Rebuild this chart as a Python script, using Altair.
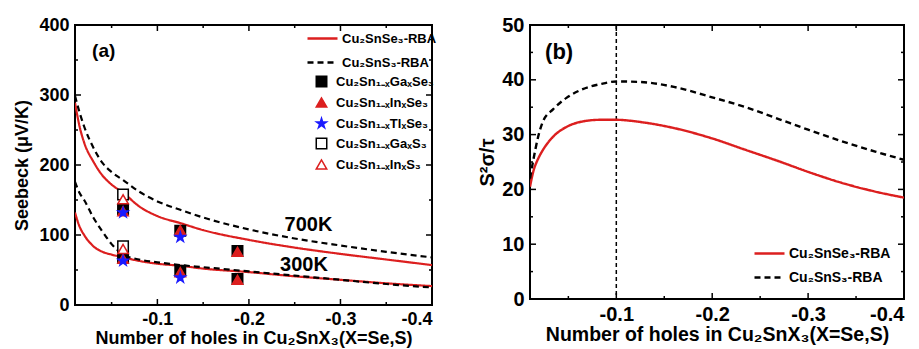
import altair as alt
import pandas as pd

RED = "#dc1f1f"
BLUE = "#1a1aff"
FONT = "Liberation Sans"

SE = "Cu₂SnSe₃-RBA"
S = "Cu₂SnS₃-RBA"
materials = [SE, S]

# ---------------- panel (a) curves ----------------
xa = [-0.01, -0.015, -0.02, -0.03, -0.04, -0.05, -0.063, -0.08, -0.1, -0.125, -0.15, -0.2, -0.25, -0.3, -0.35, -0.4]
se_700 = [289, 255, 232, 205, 185, 172, 160, 141, 127, 117, 107, 93, 82, 73, 65, 57]
s_700 = [299, 275, 255, 225, 203, 190, 178, 162, 148, 136, 125, 108, 95, 85, 76, 68]
se_300 = [132, 112, 100, 84, 76, 72, 68, 63, 59, 56, 52, 47, 41, 36, 31, 27]
s_300 = [176, 160, 150, 125, 105, 87, 72, 65, 61, 57, 54, 48, 42, 36, 30, 25]

# ---------------- panel (a) points ----------------
compounds = ["Cu₂Sn₁₋ₓGaₓSe₃", "Cu₂Sn₁₋ₓInₓSe₃", "Cu₂Sn₁₋ₓTlₓSe₃", "Cu₂Sn₁₋ₓGaₓS₃", "Cu₂Sn₁₋ₓInₓS₃"]
pt_x = [-0.0625, -0.125, -0.1875]
ga_se = [137, 68, 106, 49, 77, 37]
in_se = [134, 66, 107, 47, 76, 36]
tl_se = [132, 63, 97, 39]
ga_s = [158, 84]
in_s = [151, 80]

# ---------------- panel (b) curves ----------------
xb = [-0.01, -0.0135, -0.0185, -0.0235, -0.034, -0.048, -0.065, -0.083, -0.1, -0.125, -0.16, -0.2,
      -0.235, -0.27, -0.3, -0.335, -0.37, -0.4]
se_pf = [20.5, 23.3, 25.6, 27.2, 29.6, 31.4, 32.4, 32.7, 32.7, 32.3, 31.2, 29.3,
         27.2, 25.1, 23.2, 21.2, 19.6, 18.5]
s_pf = [22.0, 25.4, 29.6, 32.4, 34.6, 36.7, 38.3, 39.2, 39.7, 39.6, 38.7, 36.8,
        35.0, 32.8, 30.9, 28.8, 26.9, 25.4]
vline_x = [-0.1]

# ticks
x_major = [-0.1, -0.2, -0.3, -0.4]
x_minor = [-0.05, -0.15, -0.25, -0.35]
ya_major = [0, 100, 200, 300, 400]
ya_minor = [50, 150, 250, 350]
yb_major = [0, 10, 20, 30, 40, 50]
yb_minor = [5, 15, 25, 35, 45]

# annotations
ann_a = pd.DataFrame({"x": [-0.0287, -0.239, -0.234], "y": [363, 114, 57],
                      "t": ["(a)", "700K", "300K"], "s": [19, 20, 20]})
ann_b = pd.DataFrame({"x": [-0.0257], "y": [45.1], "t": ["(b)"]})

WA, HA = 357, 280
WB, HB = 374, 274

xscale = alt.Scale(domain=[-0.4, -0.01], reverse=True, nice=False, zero=False)
ya_scale = alt.Scale(domain=[0, 400], nice=False)
yb_scale = alt.Scale(domain=[0, 50], nice=False)
label_expr = "'-' + format(abs(datum.value), '.1f')"
XTITLE = "Number of holes in Cu₂SnX₃(X=Se,S)"


def x_axis(size, tsize):
    return alt.Axis(values=x_major, labelExpr=label_expr, title=XTITLE, grid=False, ticks=False,
                    tickSize=0, domain=False, labelFont=FONT, labelFontSize=size, labelFontWeight="bold",
                    labelColor="black", labelPadding=5, titleFont=FONT, titleFontSize=tsize,
                    titleFontWeight="bold", titleColor="black", titlePadding=1)


def y_axis(values, title, size, tsize, tpad):
    return alt.Axis(values=values, title=title, grid=False, ticks=False, tickSize=0, domain=False,
                    labelFont=FONT, labelFontSize=size, labelFontWeight="bold", labelColor="black",
                    labelPadding=6, titleFont=FONT, titleFontSize=tsize, titleFontWeight="bold",
                    titleColor="black", titlePadding=tpad)


def tick_layers(yscale, ymaj, ymin, W, H):
    layers = []
    for vals, L in ((x_major, 6), (x_minor, 3)):
        d = pd.DataFrame({"x": vals})
        base = alt.Chart(d).mark_rule(color="black", strokeWidth=1.5)
        layers.append(base.encode(x=alt.X("x:Q", scale=xscale), y=alt.value(H), y2=alt.value(H - L)))
        layers.append(base.encode(x=alt.X("x:Q", scale=xscale), y=alt.value(0), y2=alt.value(L)))
    for vals, L in ((ymaj, 6), (ymin, 3)):
        d = pd.DataFrame({"y": vals})
        base = alt.Chart(d).mark_rule(color="black", strokeWidth=1.5)
        layers.append(base.encode(y=alt.Y("y:Q", scale=yscale), x=alt.value(0), x2=alt.value(L)))
        layers.append(base.encode(y=alt.Y("y:Q", scale=yscale), x=alt.value(W), x2=alt.value(W - L)))
    return layers


line_legend_common = dict(orient="none", title=None, symbolType="stroke", symbolSize=900,
                          symbolStrokeWidth=2.5, labelFont=FONT, labelFontWeight="bold",
                          labelColor="black", padding=0, labelOffset=3)

# ---------------- panel (a) ----------------
rows = []
for mat, temp, ys in ((SE, "700", se_700), (S, "700", s_700), (SE, "300", se_300), (S, "300", s_300)):
    for x, y in zip(xa, ys):
        rows.append({"x": x, "y": y, "m": mat, "T": temp})
df_a = pd.DataFrame(rows)

leg_a = alt.Legend(legendX=231, legendY=-3, labelFontSize=13, rowPadding=-4, **line_legend_common)
lines_a = alt.Chart(df_a).mark_line(interpolate="monotone", strokeWidth=2.2, clip=True).encode(
    x=alt.X("x:Q", scale=xscale, axis=x_axis(18, 18)),
    y=alt.Y("y:Q", scale=ya_scale, axis=y_axis(ya_major, "Seebeck (μV/K)", 18, 18, 7)),
    color=alt.Color("m:N", scale=alt.Scale(domain=materials, range=[RED, "black"]), legend=leg_a),
    strokeDash=alt.StrokeDash("m:N", scale=alt.Scale(domain=materials, range=[[1, 0], [6, 4]]), legend=leg_a),
    detail="T:N",
)

prow = []
for name, ys in zip(compounds, (ga_se, in_se, tl_se, ga_s, in_s)):
    xs = [xv for xv in pt_x for _ in (0, 1)][:len(ys)]
    for x, y in zip(xs, ys):
        prow.append({"x": x, "y": y, "c": name})
df_p = pd.DataFrame(prow)

STAR = "M0,-1L0.2245,-0.309L0.951,-0.309L0.363,0.118L0.588,0.809L0,0.382L-0.588,0.809L-0.363,0.118L-0.951,-0.309L-0.2245,-0.309Z"
TRI = "triangle-up"
pleg = alt.Legend(orient="none", legendX=240, legendY=50, title=None, labelFont=FONT, labelFontSize=13,
                  labelFontWeight="bold", labelColor="black", padding=0, labelOffset=8, rowPadding=4,
                  symbolSize=110, symbolStrokeWidth=1.5)
points_a = alt.Chart(df_p).mark_point(size=110, strokeWidth=1.5, opacity=1, fillOpacity=1).encode(
    x=alt.X("x:Q", scale=xscale),
    y=alt.Y("y:Q", scale=ya_scale),
    shape=alt.Shape("c:N", scale=alt.Scale(domain=compounds, range=["square", TRI, STAR, "square", TRI]), legend=pleg),
    stroke=alt.Stroke("c:N", scale=alt.Scale(domain=compounds, range=["black", RED, BLUE, "black", RED]), legend=pleg),
    fill=alt.Fill("c:N", scale=alt.Scale(domain=compounds, range=["black", RED, BLUE, "white", "white"]), legend=pleg),
    order=alt.Order("c:N"),
)

text_a = alt.Chart(ann_a).mark_text(font=FONT, fontWeight="bold", align="left", baseline="middle", color="black").encode(
    x=alt.X("x:Q", scale=xscale), y=alt.Y("y:Q", scale=ya_scale), text="t:N",
    size=alt.Size("s:Q", scale=None, legend=None))

panel_a = alt.layer(lines_a, points_a, text_a, *tick_layers(ya_scale, ya_major, ya_minor, WA, HA)).properties(
    width=WA, height=HA)

# ---------------- panel (b) ----------------
rows = []
for mat, ys in ((SE, se_pf), (S, s_pf)):
    for x, y in zip(xb, ys):
        rows.append({"x": x, "y": y, "m": mat})
df_b = pd.DataFrame(rows)

leg_b = alt.Legend(legendX=223, legendY=212, labelFontSize=14, rowPadding=-2, **line_legend_common)
lines_b = alt.Chart(df_b).mark_line(interpolate="monotone", strokeWidth=2.4, clip=True).encode(
    x=alt.X("x:Q", scale=xscale, axis=x_axis(20, 19.5)),
    y=alt.Y("y:Q", scale=yb_scale, axis=y_axis(yb_major, "S²σ/τ", 20, 20, 4)),
    color=alt.Color("m:N", scale=alt.Scale(domain=materials, range=[RED, "black"]), legend=leg_b),
    strokeDash=alt.StrokeDash("m:N", scale=alt.Scale(domain=materials, range=[[1, 0], [6, 4]]), legend=leg_b),
)
vline = alt.Chart(pd.DataFrame({"x": vline_x})).mark_rule(color="black", strokeWidth=1.5, strokeDash=[4, 3]).encode(
    x=alt.X("x:Q", scale=xscale))
text_b = alt.Chart(ann_b).mark_text(font=FONT, fontWeight="bold", fontSize=22, align="left", baseline="middle",
                                    color="black").encode(
    x=alt.X("x:Q", scale=xscale), y=alt.Y("y:Q", scale=yb_scale), text="t:N")

panel_b = alt.layer(vline, lines_b, text_b, *tick_layers(yb_scale, yb_major, yb_minor, WB, HB)).properties(
    width=WB, height=HB)

chart = alt.hconcat(panel_a, panel_b, spacing=38).resolve_scale(
    x="independent", y="independent", color="independent", strokeDash="independent"
).properties(
    padding={"left": 12, "top": 14, "right": 5, "bottom": 5}, background="white"
).configure_view(stroke="black", strokeWidth=2).configure_concat(spacing=38)

chart.save("out.html", embed_options={"renderer": "svg", "actions": False})
